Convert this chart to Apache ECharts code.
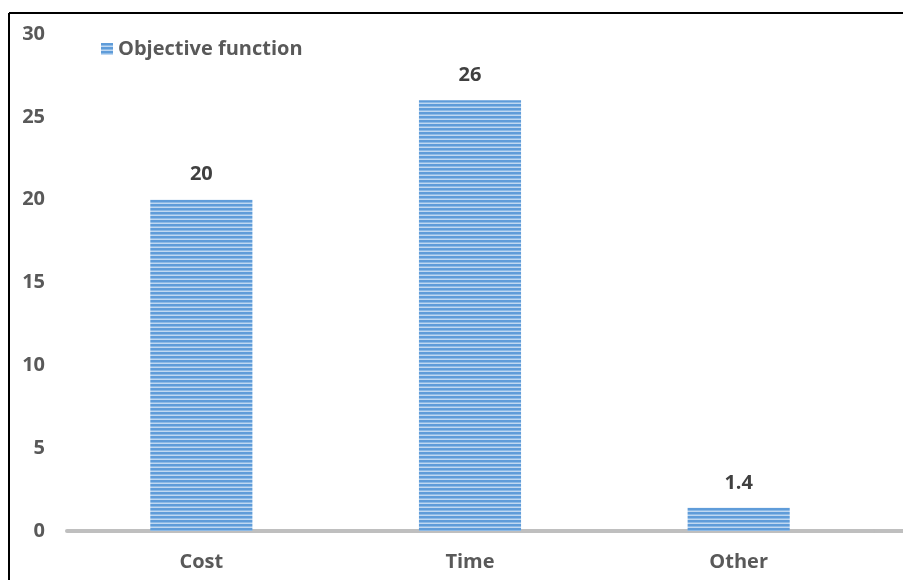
<!DOCTYPE html>
<html>
<head>
<meta charset="utf-8">
<script src="https://cdn.jsdelivr.net/npm/echarts@6/dist/echarts.min.js"></script>
<style>
  html, body { margin: 0; padding: 0; background: #fff; }
  #chart { width: 903px; height: 580px; }
</style>
</head>
<body>
<div id="chart"></div>
<script>
// Chart data
const categories = ['Cost', 'Time', 'Other'];
const objectiveValues = [20, 26, 1.4];
const seriesName = 'Objective function';
const yTicks = { min: 0, max: 30, interval: 5 };

// Horizontal stripe fill for the bars
function stripePattern() {
  const c = document.createElement('canvas');
  c.width = 8; c.height = 4;
  const ctx = c.getContext('2d');
  ctx.fillStyle = '#c0d8f1';
  ctx.fillRect(0, 0, 8, 4);
  ctx.fillStyle = '#5f9cd9';
  ctx.fillRect(0, 0, 8, 2);
  ctx.fillStyle = '#8dbae6';
  ctx.fillRect(0, 2, 8, 1);
  return c;
}
const stripe = { image: stripePattern(), repeat: 'repeat' };

const FONT = '"Open Sans", Lato, sans-serif';
const FS = 20;
const chart = echarts.init(document.getElementById('chart'), null, { renderer: 'canvas' });

chart.setOption({
  backgroundColor: '#ffffff',
  animation: false,
  grid: { left: 67, right: 30, top: 34, bottom: 49, containLabel: false },
  legend: {
    left: 96, top: 34,
    itemWidth: 12, itemHeight: 12, itemGap: 6,
    icon: 'rect',
    textStyle: { fontFamily: FONT, fontWeight: 'bold', fontSize: FS, color: '#595959' },
    data: [seriesName]
  },
  xAxis: {
    type: 'category',
    data: categories,
    axisLine: { show: true, lineStyle: { color: '#bfbfbf', width: 4 } },
    axisTick: { show: false },
    axisLabel: { margin: 21, fontFamily: FONT, fontWeight: 'bold', fontSize: FS, color: '#595959' }
  },
  yAxis: {
    type: 'value',
    min: yTicks.min, max: yTicks.max, interval: yTicks.interval,
    splitLine: { show: false },
    axisLine: { show: false },
    axisTick: { show: false },
    axisLabel: { margin: 22, fontFamily: FONT, fontWeight: 'bold', fontSize: FS, color: '#595959' }
  },
  series: [{
    name: seriesName,
    type: 'bar',
    data: objectiveValues,
    barWidth: '38%',
    itemStyle: { color: stripe },
    label: {
      show: true, position: 'top', distance: 15,
      fontFamily: FONT, fontWeight: 'bold', fontSize: FS, color: '#404040'
    }
  }],
  graphic: [
    // chart frame (top and left edges)
    { type: 'line', shape: { x1: 9, y1: 13, x2: 903, y2: 13 }, style: { stroke: '#000', lineWidth: 2 } },
    { type: 'line', shape: { x1: 9, y1: 13, x2: 9, y2: 580 }, style: { stroke: '#000', lineWidth: 2 } },
    // axis line continues to the right edge
    { type: 'line', shape: { x1: 870, y1: 531, x2: 903, y2: 531 }, style: { stroke: '#bfbfbf', lineWidth: 4 } }
  ]
});
</script>
</body>
</html>
